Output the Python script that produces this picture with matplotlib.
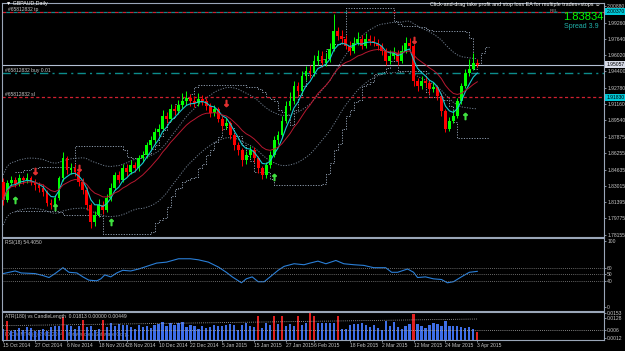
import matplotlib
matplotlib.use("Agg")
import matplotlib.pyplot as plt
import matplotlib.transforms as mtrans
import numpy as np
import pandas as pd

plt.rcParams["font.family"] = ["Liberation Sans", "DejaVu Sans"]

# --- GBPAUD daily bars ---
opens = [1.8339, 1.8161, 1.8329, 1.8359, 1.8319, 1.8378, 1.8359, 1.8378, 1.8339, 1.8309,
         1.8280, 1.8240, 1.8131, 1.8112, 1.8181, 1.8378, 1.8576, 1.8457, 1.8477, 1.8438,
         1.8339, 1.8260, 1.8112, 1.7944, 1.8013, 1.8112, 1.8062, 1.8181, 1.8280, 1.8408,
         1.8359, 1.8477, 1.8438, 1.8507, 1.8477, 1.8576, 1.8606, 1.8704, 1.8754, 1.8833,
         1.8872, 1.9001, 1.8971, 1.9070, 1.9050, 1.9110, 1.9149, 1.9179, 1.9149, 1.9129,
         1.9169, 1.9149, 1.9100, 1.9031, 1.9070, 1.8971, 1.8902, 1.8932, 1.8803, 1.8704,
         1.8655, 1.8556, 1.8606, 1.8655, 1.8576, 1.8477, 1.8408, 1.8507, 1.8606, 1.8754,
         1.8803, 1.8951, 1.9100, 1.9149, 1.9297, 1.9248, 1.9396, 1.9446, 1.9426, 1.9544,
         1.9594, 1.9525, 1.9564, 1.9663, 1.9841, 1.9791, 1.9762, 1.9693, 1.9643, 1.9722,
         1.9762, 1.9693, 1.9762, 1.9742, 1.9722, 1.9693, 1.9643, 1.9544, 1.9594, 1.9623,
         1.9544, 1.9643, 1.9722, 1.9693, 1.9347, 1.9297, 1.9347, 1.9327, 1.9268, 1.9288,
         1.9199, 1.9050, 1.8872, 1.8951, 1.9001, 1.9149, 1.9297, 1.9426, 1.9465, 1.9525]
closes = [1.8161, 1.8329, 1.8359, 1.8319, 1.8378, 1.8359, 1.8378, 1.8339, 1.8309, 1.8280,
          1.8240, 1.8131, 1.8112, 1.8181, 1.8378, 1.8576, 1.8457, 1.8477, 1.8438, 1.8339,
          1.8260, 1.8112, 1.7944, 1.8013, 1.8112, 1.8062, 1.8181, 1.8280, 1.8408, 1.8359,
          1.8477, 1.8438, 1.8507, 1.8477, 1.8576, 1.8606, 1.8704, 1.8754, 1.8833, 1.8872,
          1.9001, 1.8971, 1.9070, 1.9050, 1.9110, 1.9149, 1.9179, 1.9149, 1.9129, 1.9169,
          1.9149, 1.9100, 1.9031, 1.9070, 1.8971, 1.8902, 1.8932, 1.8803, 1.8704, 1.8655,
          1.8556, 1.8606, 1.8655, 1.8576, 1.8477, 1.8408, 1.8507, 1.8606, 1.8754, 1.8803,
          1.8951, 1.9100, 1.9149, 1.9297, 1.9248, 1.9396, 1.9446, 1.9426, 1.9544, 1.9594,
          1.9525, 1.9564, 1.9663, 1.9841, 1.9791, 1.9762, 1.9693, 1.9643, 1.9722, 1.9762,
          1.9693, 1.9762, 1.9742, 1.9722, 1.9693, 1.9643, 1.9544, 1.9594, 1.9623, 1.9544,
          1.9643, 1.9722, 1.9693, 1.9347, 1.9297, 1.9347, 1.9327, 1.9268, 1.9288, 1.9199,
          1.9050, 1.8872, 1.8951, 1.9001, 1.9149, 1.9297, 1.9426, 1.9465, 1.9525, 1.9505]
highs = [1.8378, 1.8359, 1.8398, 1.8388, 1.8418, 1.8398, 1.8428, 1.8398, 1.8370, 1.8340,
         1.8320, 1.8260, 1.8170, 1.8210, 1.8400, 1.8640, 1.8600, 1.8530, 1.8520, 1.8470,
         1.8380, 1.8290, 1.8130, 1.8050, 1.8170, 1.8150, 1.8220, 1.8330, 1.8440, 1.8450,
         1.8520, 1.8520, 1.8560, 1.8540, 1.8610, 1.8650, 1.8740, 1.8800, 1.8880, 1.8920,
         1.9060, 1.9040, 1.9120, 1.9110, 1.9160, 1.9230, 1.9250, 1.9220, 1.9200, 1.9230,
         1.9210, 1.9180, 1.9130, 1.9110, 1.9090, 1.9000, 1.8980, 1.8950, 1.8830, 1.8740,
         1.8680, 1.8650, 1.8700, 1.8690, 1.8600, 1.8500, 1.8540, 1.8650, 1.8800, 1.8850,
         1.9000, 1.9150, 1.9240, 1.9350, 1.9340, 1.9440, 1.9490, 1.9500, 1.9600, 1.9650,
         1.9640, 1.9620, 1.9720, 2.0009, 1.9880, 1.9850, 1.9800, 1.9740, 1.9780, 1.9830,
         1.9800, 1.9820, 1.9800, 1.9790, 1.9760, 1.9720, 1.9670, 1.9650, 1.9680, 1.9650,
         1.9700, 1.9780, 1.9770, 1.9710, 1.9380, 1.9400, 1.9390, 1.9360, 1.9340, 1.9310,
         1.9230, 1.9070, 1.8990, 1.9060, 1.9180, 1.9330, 1.9460, 1.9560, 1.9620, 1.9560]
lows = [1.8112, 1.8142, 1.8300, 1.8290, 1.8300, 1.8320, 1.8330, 1.8310, 1.8260, 1.8240,
        1.8200, 1.8100, 1.8075, 1.8080, 1.8160, 1.8350, 1.8420, 1.8420, 1.8400, 1.8300,
        1.8220, 1.8060, 1.7884, 1.7900, 1.7990, 1.8020, 1.8040, 1.8150, 1.8260, 1.8330,
        1.8340, 1.8400, 1.8420, 1.8440, 1.8450, 1.8540, 1.8580, 1.8670, 1.8720, 1.8800,
        1.8850, 1.8930, 1.8950, 1.9010, 1.9020, 1.9080, 1.9110, 1.9100, 1.9090, 1.9100,
        1.9110, 1.9060, 1.8990, 1.9000, 1.8940, 1.8860, 1.8870, 1.8770, 1.8660, 1.8610,
        1.8500, 1.8520, 1.8580, 1.8540, 1.8430, 1.8370, 1.8380, 1.8480, 1.8590, 1.8720,
        1.8780, 1.8930, 1.9060, 1.9120, 1.9200, 1.9220, 1.9360, 1.9380, 1.9400, 1.9500,
        1.9480, 1.9490, 1.9530, 1.9640, 1.9750, 1.9720, 1.9660, 1.9600, 1.9620, 1.9700,
        1.9660, 1.9670, 1.9700, 1.9690, 1.9650, 1.9600, 1.9500, 1.9510, 1.9560, 1.9500,
        1.9520, 1.9620, 1.9660, 1.9300, 1.9250, 1.9270, 1.9290, 1.9220, 1.9240, 1.9160,
        1.9000, 1.8840, 1.8850, 1.8930, 1.8980, 1.9120, 1.9280, 1.9400, 1.9450, 1.9480]

# signal arrows (bar index, price)
buy_arrow_idx = [3, 13, 27, 68, 116]
buy_arrow_px = [1.8161, 1.8092, 1.7944, 1.8388, 1.9001]
sell_arrow_idx = [8, 19, 56, 103]
sell_arrow_px = [1.8448, 1.8477, 1.9129, 1.9752]

# trade lines
tp_price = 2.0037
bid_price = 1.95057
buy_price = 1.9428
sl_price = 1.9183

price_ticks = [2.00880, 1.99260, 1.97640, 1.96020, 1.94400, 1.92780, 1.91160, 1.89540,
               1.87875, 1.86255, 1.84635, 1.83015, 1.81395, 1.79775, 1.78155]

# RSI(18) points
rsi_idx = [0, 3, 4.5, 8, 10, 11.5, 13, 15, 16.5, 18.5, 20, 21.5, 23.5, 24.5, 25.5, 27,
           28.5, 30, 32, 34, 36, 38.5, 41, 44, 47, 49, 51.5, 54, 56, 57.5, 59.8, 61,
           62.5, 64, 65.5, 67, 69, 70.5, 73, 75.5, 77, 79, 81, 83.5, 85.5, 88, 90.5,
           93, 96, 97.5, 99, 100.5, 101.5, 103, 104, 106, 108, 110, 111.5, 113, 115, 117, 119]
rsi_val = [51, 55, 52, 51, 48, 45, 51, 60, 53, 52, 46, 41, 40, 43, 49, 46,
           52, 56, 55, 58, 62, 67, 68.5, 73.6, 73.6, 72, 68.5, 61, 53, 46, 37, 43,
           46, 38.6, 38.6, 46, 56, 62, 66, 64.5, 67, 70, 66, 71, 66, 64.5, 63.5,
           60, 60, 53, 53, 56, 58, 53, 45, 46, 43, 42, 37, 38.6, 46, 53, 54.4]

# candle length histogram (ATR panel)
candle_len = [0.0062, 0.0108, 0.0050, 0.0058, 0.0068, 0.0060, 0.0075, 0.0066, 0.0050, 0.0055,
              0.0062, 0.0050, 0.0072, 0.0078, 0.0080, 0.0130, 0.0085, 0.0078, 0.0062, 0.0080,
              0.0115, 0.0072, 0.0080, 0.0060, 0.0063, 0.0115, 0.0072, 0.0095, 0.0080, 0.0092,
              0.0088, 0.0085, 0.0072, 0.0065, 0.0085, 0.0075, 0.0082, 0.0070, 0.0088, 0.0090,
              0.0105, 0.0078, 0.0098, 0.0088, 0.0095, 0.0102, 0.0072, 0.0085, 0.0078, 0.0065,
              0.0080, 0.0070, 0.0075, 0.0088, 0.0082, 0.0078, 0.0085, 0.0090, 0.0086, 0.0060,
              0.0088, 0.0095, 0.0080, 0.0072, 0.0140, 0.0070, 0.0095, 0.0088, 0.0140, 0.0090,
              0.0140, 0.0082, 0.0092, 0.0080, 0.0135, 0.0085, 0.0098, 0.0160, 0.0135, 0.0095,
              0.0100, 0.0098, 0.0098, 0.0100, 0.0140, 0.0065, 0.0062, 0.0085, 0.0092, 0.0090,
              0.0095, 0.0088, 0.0075, 0.0085, 0.0070, 0.0060, 0.0110, 0.0082, 0.0105, 0.0072,
              0.0062, 0.0080, 0.0092, 0.0150, 0.0090, 0.0080, 0.0070, 0.0085, 0.0100, 0.0090,
              0.0082, 0.0110, 0.0078, 0.0082, 0.0080, 0.0075, 0.0068, 0.0072, 0.0065, 0.0045]
red_len_idx = [1, 15, 20, 25, 64, 68, 70, 74, 77, 78, 84, 103, 119]
atr_start, atr_end = 0.0082, 0.0120

date_idx = [0, 8, 16, 24, 31, 39, 47, 55, 63, 71, 78, 87, 95, 103, 111, 119]
date_labels = ["15 Oct 2014", "27 Oct 2014", "6 Nov 2014", "18 Nov 2014", "28 Nov 2014",
               "10 Dec 2014", "22 Dec 2014", "5 Jan 2015", "15 Jan 2015", "27 Jan 2015",
               "6 Feb 2015", "18 Feb 2015", "2 Mar 2015", "12 Mar 2015", "24 Mar 2015",
               "3 Apr 2015"]

GRID = "#9aa6b8"
TXT = "#c8c8c8"
FS = 3.6
W, H = 625, 351

fig = plt.figure(figsize=(6.25, 3.51), dpi=100, facecolor="black")
left, width = 2 / W, 602 / W
ax = fig.add_axes([left, 1 - 236.5 / H, width, 233.5 / H], facecolor="black")
rsi_ax = fig.add_axes([left, 1 - 311 / H, width, 73.5 / H], facecolor="black")
atr_ax = fig.add_axes([left, 1 - 340 / H, width, 28 / H], facecolor="black")
xlim = (-0.3, 150.8)

for a in (ax, rsi_ax, atr_ax):
    a.set_xlim(*xlim)
    for s in a.spines.values():
        s.set_color(GRID)
        s.set_linewidth(0.8)
    a.yaxis.tick_right()
    a.tick_params(axis="y", colors=GRID, labelcolor=TXT, labelsize=FS, length=1.5, pad=0.8, width=0.6)
    a.tick_params(axis="x", bottom=False, labelbottom=False)

# --- main price panel ---
n = len(closes)
x = np.arange(n)
o, c, h, l = map(np.array, (opens, closes, highs, lows))
up = c >= o
col = np.where(up, "#00ff00", "#ff0000")
ax.vlines(x, l, h, colors=col, lw=0.7, zorder=3)
ax.bar(x, np.where(np.abs(c - o) < 0.0004, 0.0004, c - o), bottom=o, width=0.7,
       color=col, edgecolor=col, lw=0, zorder=4)

cs = pd.Series(closes)
hs, ls_ = pd.Series(highs), pd.Series(lows)
ax.plot(x, cs.ewm(span=5).mean(), color="#16c8d0", lw=0.8, zorder=5)
ax.plot(x, cs.ewm(span=14).mean(), color="#b81830", lw=0.7, zorder=5)
# stepped channel and sloped envelope, dotted
dot = (0, (1.2, 1.5))
ax.plot(x + 3, hs.rolling(12, min_periods=1).max() + 0.006, color="#8e9cae", ls=dot, lw=0.7, drawstyle="steps-post")
ax.plot(x + 3, ls_.rolling(12, min_periods=1).min() - 0.006, color="#8e9cae", ls=dot, lw=0.7, drawstyle="steps-post")
mid = cs.rolling(20, min_periods=1).mean()
ax.plot(x, mid + 0.025, color="#6f7d8e", ls=dot, lw=0.7)
ax.plot(x, mid - 0.025, color="#6f7d8e", ls=dot, lw=0.7)

ax.plot(buy_arrow_idx, buy_arrow_px, ls="none", marker=r"$\uparrow$", ms=4.5, color="#40e040", zorder=6)
ax.plot(sell_arrow_idx, sell_arrow_px, ls="none", marker=r"$\downarrow$", ms=4.5, color="#e03030", zorder=6)

ax.axhline(tp_price, color="#d02030", ls=(0, (3, 3)), lw=0.9)
ax.axhline(tp_price, color="#108a8a", ls=(3, (3, 3)), lw=0.9)
ax.axhline(bid_price, color="#b4c0d4", lw=0.8)
ax.axhline(buy_price, color="#0c8c8c", ls=(0, (6, 3, 1.5, 3)), lw=1.0)
ax.axhline(sl_price, color="#d02030", ls=(0, (2.5, 2)), lw=0.9)

ax.set_ylim(1.7797, 2.0122)
ax.set_yticks(price_ticks)
ax.set_yticklabels([f"{p:.5f}" for p in price_ticks])

tr = mtrans.blended_transform_factory(ax.transAxes, ax.transData)
for price, txt, fc in [(tp_price, "2.00370", "#00c8d8"),
                       (bid_price, "1.95057", "#d8dce8"),
                       (sl_price, "1.91830", "#00c8d8")]:
    ax.text(1.004, price, txt, transform=tr, fontsize=FS, color="black", va="center", ha="left",
            bbox=dict(boxstyle="square,pad=0.2", fc=fc, ec="none"), clip_on=False)

fig.text(8 / W, 1 - 9 / H, "#65812832 tp", fontsize=FS, color=TXT, va="center")
ax.text(0.005, buy_price, "#65812832 buy 0.01", transform=tr, fontsize=FS, color=TXT, va="bottom")
ax.text(0.005, sl_price, "#65812832 sl", transform=tr, fontsize=FS, color=TXT, va="bottom")

fig.text(6 / W, 1 - 3.8 / H, "\u25bc GBPAUD,Daily", fontsize=3.8, color="white", va="center")
fig.text(601 / W, 1 - 4.5 / H, "Click-and-drag take profit and stop loss EA for multiple trades+stops \u263a",
         fontsize=3.9, color="white", va="center", ha="right")
fig.text(550 / W, 1 - 10.5 / H, "REL", fontsize=3.2, color="#a0a0a0", va="center")
fig.text(603 / W, 1 - 17.5 / H, "1.83834", fontsize=8, color="#00ff00", va="center", ha="right")
fig.text(599 / W, 1 - 27 / H, "Spread 3.9", fontsize=5, color="#20b2aa", va="center", ha="right")

# --- RSI panel ---
rsi_ax.plot(rsi_idx, rsi_val, color="#2a7fd8", lw=0.8)
for lvl in (60, 50, 40):
    rsi_ax.axhline(lvl, color="#8a8a8a", ls=(0, (1, 1.5)), lw=0.6)
rsi_ax.set_ylim(-6, 106)
rsi_ax.set_yticks([100, 60, 50, 40, 0])
rsi_ax.set_yticklabels(["100", "60", "50", "40", "0"])
rsi_ax.text(0.005, 0.93, "RSI(18) 54.4050", transform=rsi_ax.transAxes, fontsize=FS, color=TXT, va="center")

# --- ATR vs candle length panel ---
bar_col = ["#e02020" if i in red_len_idx else "#3e6ee8" for i in range(n)]
atr_ax.bar(x, candle_len, width=0.55, color=bar_col, lw=0)
atr_ax.plot([0, n - 1], [atr_start, atr_end], color="#b0b0b0", ls=(0, (1, 1.5)), lw=0.6)
atr_ax.axhline(0.006, color="#b0b0b0", ls=(0, (1, 1.5)), lw=0.6)
atr_ax.set_ylim(0.0, 0.0160)
atr_ax.set_yticks([0.0153, 0.0128, 0.006, 0.0012])
atr_ax.set_yticklabels(["0.0153", "0.0128", "0.006", "0.0012"])
atr_ax.text(0.005, 0.84, "ATR(180) vs CandleLength  0.01813 0.00000 0.00449", transform=atr_ax.transAxes,
            fontsize=FS, color=TXT, va="center")
atr_ax.text(0.005, 0.18, "FXCM MT4 (c) 2001-2014, MetaQuotes Software Corp.", transform=atr_ax.transAxes,
            fontsize=FS, color="#9a9a9a", va="center", zorder=0)
atr_ax.tick_params(axis="x", bottom=True, labelbottom=True, colors=GRID, labelcolor=TXT,
                   labelsize=FS, length=1.5, pad=1, width=0.6)
atr_ax.set_xticks(date_idx)
atr_ax.set_xticklabels(date_labels, ha="left")

fig.savefig("out.png", dpi=100, facecolor="black")
